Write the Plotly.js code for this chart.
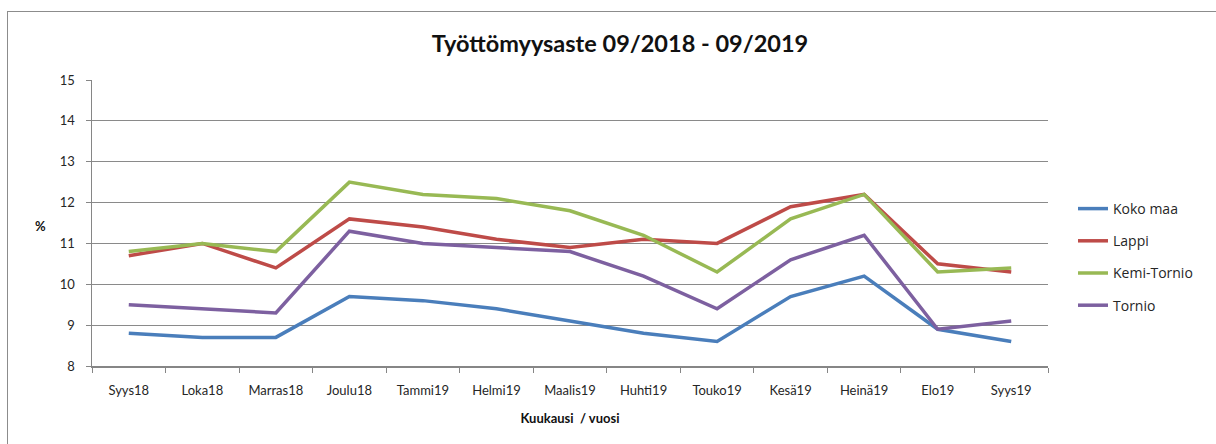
<!DOCTYPE html>
<html>
<head>
<meta charset="utf-8">
<script src="https://cdn.plot.ly/plotly-3.0.1.min.js"></script>
<style>
  html, body { margin: 0; padding: 0; background: #fff; overflow: hidden; }
  #frame { position: absolute; left: 7px; top: 11px; width: 1300px; height: 500px;
           border-left: 1.5px solid #8c8c8c; border-top: 1.5px solid #8c8c8c; pointer-events: none; z-index: 5; }
  #chart { position: absolute; left: 0; top: 0; width: 1216px; height: 444px; }
</style>
</head>
<body>
<div id="chart"></div>
<div id="frame"></div>
<script>
const months = ["Syys18", "Loka18", "Marras18", "Joulu18", "Tammi19", "Helmi19", "Maalis19",
                "Huhti19", "Touko19", "Kesä19", "Heinä19", "Elo19", "Syys19"];
const kokoMaa    = [8.8, 8.7, 8.7, 9.7, 9.6, 9.4, 9.1, 8.8, 8.6, 9.7, 10.2, 8.9, 8.6];
const lappi      = [10.7, 11.0, 10.4, 11.6, 11.4, 11.1, 10.9, 11.1, 11.0, 11.9, 12.2, 10.5, 10.3];
const kemiTornio = [10.8, 11.0, 10.8, 12.5, 12.2, 12.1, 11.8, 11.2, 10.3, 11.6, 12.2, 10.3, 10.4];
const tornio     = [9.5, 9.4, 9.3, 11.3, 11.0, 10.9, 10.8, 10.2, 9.4, 10.6, 11.2, 8.9, 9.1];
const seriesNames = ["Koko maa", "Lappi", "Kemi-Tornio", "Tornio"];
const seriesColors = ["#4A7EBB", "#BE4B48", "#98B954", "#7D60A0"];
const yTicks = [8, 9, 10, 11, 12, 13, 14, 15];

const FONT = "Lato, 'Open Sans', sans-serif";
const allSeries = [kokoMaa, lappi, kemiTornio, tornio];
const traces = allSeries.map((vals, i) => ({
  type: "scatter", mode: "lines", x: months, y: vals, name: seriesNames[i],
  legendgroup: "g" + i,
  line: { color: seriesColors[i], width: 3.5 }
}));

const layout = {
  width: 1216, height: 444,
  margin: { l: 92, r: 168, t: 80, b: 78 },
  paper_bgcolor: "#fff", plot_bgcolor: "#fff",
  font: { family: FONT, size: 13, color: "#262626" },
  title: {
    text: "<b>Työttömyysaste 09/2018 - 09/2019</b>",
    font: { family: FONT, size: 23.5, color: "#111" },
    xref: "container", x: 620 / 1216, xanchor: "center",
    yref: "container", y: 1 - 44 / 444, yanchor: "middle"
  },
  xaxis: {
    type: "category", range: [-0.5, months.length - 0.5],
    tickson: "boundaries", ticks: "outside", ticklen: 5, tickcolor: "#868686",
    showline: true, linecolor: "#868686", linewidth: 1.5, showgrid: false, zeroline: false,
    tickfont: { family: FONT, size: 13, color: "#262626" }, ticklabelstandoff: 12,
    title: { text: "<b>Kuukausi  / vuosi</b>", font: { family: FONT, size: 13, color: "#111" }, standoff: 17 }
  },
  yaxis: {
    range: [8, 15], tickvals: yTicks, ticks: "outside", ticklen: 5, tickcolor: "#868686",
    showline: true, linecolor: "#868686", linewidth: 1.5,
    showgrid: true, gridcolor: "#8a8a8a", gridwidth: 1.2, zeroline: false,
    tickfont: { family: FONT, size: 13, color: "#262626" }, ticklabelstandoff: 8
  },
  annotations: [{
    text: "<b>%</b>", xref: "paper", yref: "paper", x: (40 - 92) / 956, y: 1 - (226 - 80) / 286,
    showarrow: false, font: { family: FONT, size: 13, color: "#111" }, xanchor: "center", yanchor: "middle"
  }],
  legend: {
    x: (1073 - 92) / 956, xanchor: "left", y: 1 - (193 - 80) / 286, yanchor: "top",
    font: { family: "'Open Sans', sans-serif", size: 14, color: "#262626" }, tracegroupgap: 11,
    bgcolor: "rgba(0,0,0,0)"
  },
  showlegend: true
};

Plotly.newPlot("chart", traces, layout, { staticPlot: true, displayModeBar: false });
</script>
</body>
</html>
